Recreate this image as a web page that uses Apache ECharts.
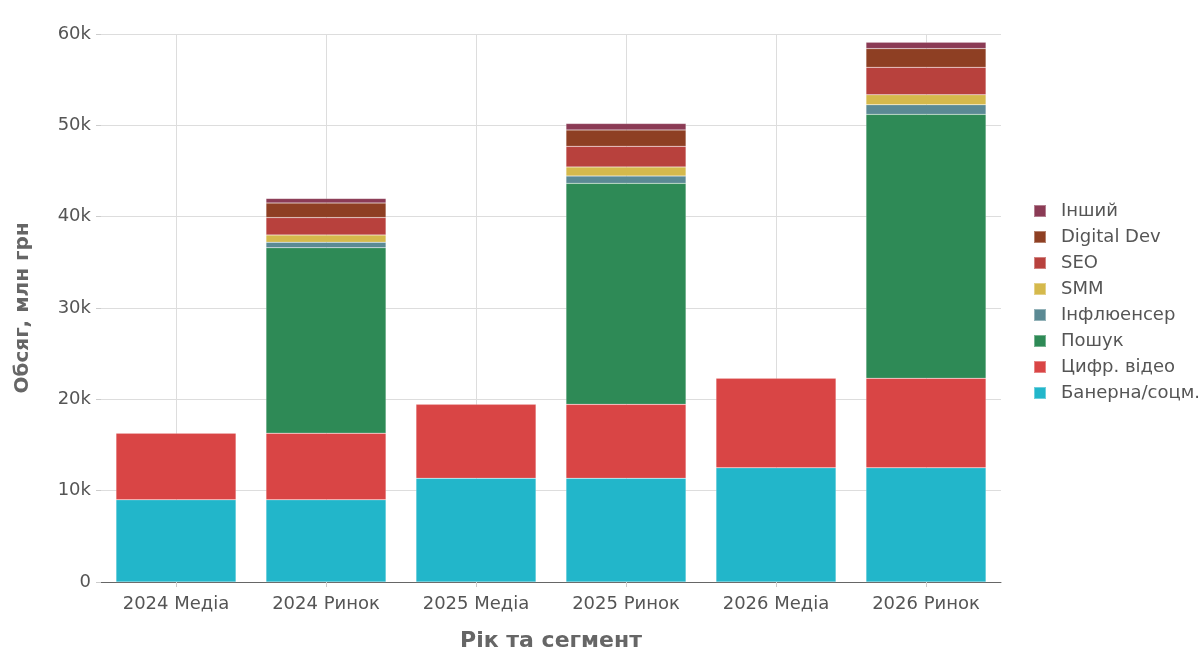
<!DOCTYPE html>
<html>
<head>
<meta charset="utf-8">
<script src="https://cdn.jsdelivr.net/npm/echarts@6/dist/echarts.min.js"></script>
<style>
html,body{margin:0;padding:0;background:#fff;}
#chart{width:1204px;height:657px;}
</style>
</head>
<body>
<div id="chart"></div>
<script>
const categories = ['2024 Медіа','2024 Ринок','2025 Медіа','2025 Ринок','2026 Медіа','2026 Ринок'];
const banner     = [9000, 9000, 11350, 11350, 12500, 12500];
const video      = [7300, 7300, 8100, 8100, 9800, 9800];
const search     = [null, 20300, null, 24200, null, 28900];
const influencer = [null, 600, null, 800, null, 1050];
const smm        = [null, 800, null, 1000, null, 1100];
const seo        = [null, 1900, null, 2250, null, 3000];
const digitalDev = [null, 1600, null, 1800, null, 2050];
const other      = [null, 500, null, 700, null, 700];
const yTicks     = [0, 10000, 20000, 30000, 40000, 50000, 60000];

const seriesDefs = [
  ['Банерна/соцм.', banner, '#22b6ca'],
  ['Цифр. відео', video, '#d94545'],
  ['Пошук', search, '#2e8a56'],
  ['Інфлюенсер', influencer, '#5b8a94'],
  ['SMM', smm, '#d5b94c'],
  ['SEO', seo, '#b8413d'],
  ['Digital Dev', digitalDev, '#8e3f23'],
  ['Інший', other, '#8b3b55']
];

const FONT = '"DejaVu Sans", sans-serif';
const chart = echarts.init(document.getElementById('chart'));
chart.setOption({
  animation: false,
  grid: {left: 101, right: 203, top: 34, bottom: 68, containLabel: false},
  legend: {
    orient: 'vertical',
    left: 1033,
    top: 202,
    padding: 0,
    itemWidth: 12,
    itemHeight: 12,
    itemGap: 8,
    icon: 'rect',
    data: seriesDefs.map(s => s[0]).reverse(),
    textStyle: {fontSize: 18, color: '#555', fontFamily: FONT, padding: [0,0,0,10]}
  },
  xAxis: {
    type: 'category',
    data: categories,
    name: 'Рік та сегмент',
    nameLocation: 'middle',
    nameGap: 48,
    nameTextStyle: {fontSize: 22, fontWeight: 'bold', color: '#666', fontFamily: FONT},
    axisLine: {show: true, lineStyle: {color: '#666'}},
    axisTick: {show: true, alignWithLabel: true, length: 5, lineStyle: {color: '#ccc'}},
    splitLine: {show: true, alignWithLabel: true, lineStyle: {color: '#ddd'}},
    axisLabel: {fontSize: 18, color: '#555', margin: 13, fontFamily: FONT}
  },
  yAxis: {
    type: 'value',
    min: 0,
    max: 60000,
    interval: 10000,
    name: 'Обсяг, млн грн',
    nameLocation: 'middle',
    nameGap: 68,
    nameTextStyle: {fontSize: 20, fontWeight: 'bold', color: '#666', fontFamily: FONT},
    axisLine: {show: false},
    axisTick: {show: true, length: 5, lineStyle: {color: '#ccc'}},
    splitLine: {show: true, lineStyle: {color: '#ddd'}},
    axisLabel: {
      fontSize: 18, color: '#555', margin: 10, fontFamily: FONT,
      formatter: v => (yTicks.includes(v) ? (v === 0 ? '0' : (v / 1000) + 'k') : '')
    }
  },
  series: seriesDefs.map(s => ({
    name: s[0],
    type: 'bar',
    stack: 'total',
    data: s[1],
    barWidth: '80%',
    itemStyle: {color: s[2], borderColor: 'rgba(255,255,255,0.35)', borderWidth: 0.5}
  }))
});
</script>
</body>
</html>
